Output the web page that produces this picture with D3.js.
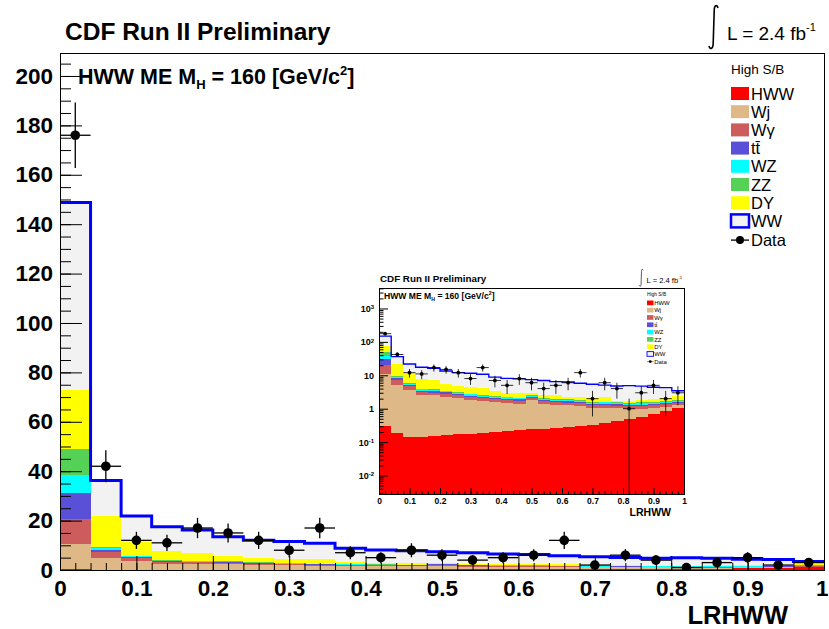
<!DOCTYPE html>
<html>
<head>
<meta charset="utf-8">
<script src="https://cdn.jsdelivr.net/npm/d3@7"></script>
<style>
  body { margin: 0; background: #fff; }
  svg { display: block; }
  text { font-family: "Liberation Sans", Arial, Helvetica, sans-serif; }
</style>
</head>
<body>
<svg id="chart" width="829" height="629"></svg>
<script>
// bins of LRHWW (width 0.04)
const binLow = [0, 0.04, 0.08, 0.12, 0.16, 0.2, 0.24, 0.28, 0.32, 0.36, 0.4, 0.44, 0.48,
                0.52, 0.56, 0.6, 0.64, 0.68, 0.72, 0.76, 0.8, 0.84, 0.88, 0.92, 0.96];
const binWidth = 0.04;

// expected events per bin, stacked bottom -> top
const hww    = [0.30, 0.19, 0.14, 0.14, 0.15, 0.16, 0.17, 0.18, 0.19, 0.20, 0.21, 0.23, 0.24,
                0.25, 0.27, 0.28, 0.30, 0.33, 0.37, 0.42, 0.48, 0.56, 0.69, 0.83, 1.05];
const wj     = [10.3, 4.8, 3.45, 2.45, 2.35, 2.15, 1.95, 1.7, 1.5, 1.4, 1.3, 1.2, 1.55,
                1.15, 1.05, 1.0, 0.9, 0.7, 0.7, 0.6, 0.5, 0.45, 0.38, 0.32, 0.25];
const wgamma = [10.2, 2.4, 1.1, 0.6, 0.55, 0.5, 0.45, 0.4, 0.38, 0.35, 0.33, 0.3, 0.3,
                0.28, 0.26, 0.25, 0.24, 0.22, 0.22, 0.2, 0.2, 0.2, 0.2, 0.2, 0.2];
const ttbar  = [10.2, 0.8, 0.45, 0.3, 0.28, 0.25, 0.22, 0.2, 0.2, 0.18, 0.17, 0.16, 0.15,
                0.15, 0.14, 0.14, 0.13, 0.13, 0.13, 0.12, 0.12, 0.12, 0.12, 0.12, 0.12];
const wz     = [7.6, 0.6, 0.35, 0.3, 0.28, 0.25, 0.22, 0.2, 0.2, 0.18, 0.17, 0.16, 0.16,
                0.15, 0.15, 0.14, 0.14, 0.13, 0.13, 0.12, 0.12, 0.12, 0.12, 0.12, 0.12];
const zz     = [10.4, 0.5, 0.3, 0.2, 0.18, 0.16, 0.15, 0.14, 0.13, 0.12, 0.12, 0.11, 0.11,
                0.1, 0.1, 0.1, 0.1, 0.09, 0.09, 0.09, 0.09, 0.09, 0.09, 0.09, 0.09];
const dy     = [24.0, 12.6, 5.7, 3.7, 3.2, 2.0, 1.65, 1.7, 1.7, 1.0, 0.6, 0.75, 0.5,
                0.5, 0.6, 0.4, 0.5, 0.5, 0.55, 0.15, 0.2, 0.3, 0.4, 0.4, 0.6];
const ww     = [75.8, 14.3, 10.4, 9.8, 9.2, 8.0, 7.2, 7.0, 6.5, 5.4, 5.2, 4.9, 4.4,
                4.4, 3.9, 4.0, 3.5, 3.3, 2.9, 3.1, 3.2, 2.9, 2.4, 2.2, 1.0];

// observed events
const dataCounts = [176, 42, 12, 11, 17, 15, 12, 8, 17, 7, 5, 8, 6,
                    4, 5, 6, 12, 2, 6, 4, 1, 3, 5, 2, 3];

// axis ticks
const yMajorTicks = [0, 20, 40, 60, 80, 100, 120, 140, 160, 180, 200];
const xMajorTicks = [0, 0.1, 0.2, 0.3, 0.4, 0.5, 0.6, 0.7, 0.8, 0.9, 1];
const xTickLabels = ["0", "0.1", "0.2", "0.3", "0.4", "0.5", "0.6", "0.7", "0.8", "0.9", "1"];
const logMajorTicks = [0.01, 0.1, 1, 10, 100, 1000];
const logTickLabels = [["10", "-2"], ["10", "-1"], ["1", ""], ["10", ""], ["10", "2"], ["10", "3"]];

const keys = ["hww", "wj", "wgamma", "ttbar", "wz", "zz", "dy", "ww"];
const legendLabels = ["HWW", "Wj", "W\u03b3", "t\u0074\u0304", "WZ", "ZZ", "DY", "WW"];
const colors = {
  hww: "#ff0000", wj: "#deb887", wgamma: "#cd5c5c", ttbar: "#5a50d8",
  wz: "#00ffff", zz: "#55d255", dy: "#ffff00", ww: "#f2f2f2"
};

const rows = binLow.map((lo, i) => ({
  lo, hww: hww[i], wj: wj[i], wgamma: wgamma[i], ttbar: ttbar[i],
  wz: wz[i], zz: zz[i], dy: dy[i], ww: ww[i], n: dataCounts[i]
}));
const series = d3.stack().keys(keys)(rows);
const totals = rows.map(r => d3.sum(keys, k => r[k]));

const svg = d3.select("#chart");
svg.append("rect").attr("width", 829).attr("height", 629).attr("fill", "#fff");

function drawHist(g, x, y, opt) {
  const floor = y.domain()[0];
  const [x0, x1] = x.range();
  const [yb, yt] = y.range();
  g.append("clipPath").attr("id", opt.id).append("rect")
    .attr("x", x0).attr("y", yt).attr("width", x1 - x0).attr("height", yb - yt);
  const plot = g.append("g").attr("clip-path", `url(#${opt.id})`);

  series.forEach(s => {
    plot.append("g").attr("fill", colors[s.key])
      .selectAll("rect").data(s).join("rect")
      .attr("shape-rendering", "crispEdges")
      .attr("x", d => x(d.data.lo))
      .attr("width", d => x(d.data.lo + binWidth) - x(d.data.lo) + 0.5)
      .attr("y", d => y(d[1]))
      .attr("height", d => Math.max(0, y(Math.max(d[0], floor)) - y(d[1])));
  });

  // WW outline = top of stack
  const pts = rows.map((r, i) => [r.lo, totals[i]]).concat([[1, totals[totals.length - 1]]]);
  plot.append("path")
    .attr("d", d3.line().x(d => x(d[0])).y(d => y(d[1])).curve(d3.curveStepAfter)(pts))
    .attr("fill", "none").attr("stroke", "#0000ff").attr("stroke-width", opt.lineW);

  // data points with sqrt(N) errors
  const pg = plot.append("g").attr("stroke", "#000").attr("stroke-width", opt.errW);
  pg.selectAll(".ev").data(rows).join("line").attr("class", "ev")
    .attr("x1", d => x(d.lo + binWidth / 2)).attr("x2", d => x(d.lo + binWidth / 2))
    .attr("y1", d => y(Math.max(d.n - Math.sqrt(d.n), floor)))
    .attr("y2", d => y(d.n + Math.sqrt(d.n)));
  pg.selectAll(".eh").data(rows).join("line").attr("class", "eh")
    .attr("x1", d => x(d.lo)).attr("x2", d => x(d.lo + binWidth))
    .attr("y1", d => y(d.n)).attr("y2", d => y(d.n));
  plot.append("g").selectAll("circle").data(rows).join("circle")
    .attr("cx", d => x(d.lo + binWidth / 2)).attr("cy", d => y(d.n))
    .attr("r", opt.markR).attr("fill", "#000");

  g.append("rect").attr("x", x0).attr("y", yt).attr("width", x1 - x0).attr("height", yb - yt)
    .attr("fill", "none").attr("stroke", "#000").attr("stroke-width", 1)
    .attr("shape-rendering", "crispEdges");
}

function styleAxis(a, size) {
  a.attr("font-family", "'Liberation Sans', Arial, sans-serif")
   .attr("font-size", size).attr("font-weight", "bold");
  a.select(".domain").remove();
}

// ---------------- main plot ----------------
const x = d3.scaleLinear().domain([0, 1]).range([60, 824]);
const y = d3.scaleLinear().domain([0, 209.3]).range([570, 53]);
const main = svg.append("g");
drawHist(main, x, y, { id: "clipMain", lineW: 3, errW: 1.3, markR: 4.8 });

main.append("g").attr("transform", `translate(60,0)`)
  .call(d3.axisLeft(y).tickValues(d3.range(0, 206, 5)).tickSize(-11).tickFormat(""))
  .call(a => styleAxis(a, 22));
main.append("g").attr("transform", `translate(60,0)`)
  .call(d3.axisLeft(y).tickValues(yMajorTicks).tickSize(-22).tickPadding(7))
  .call(a => styleAxis(a, 22.5));
main.append("g").attr("transform", `translate(0,570)`)
  .call(d3.axisBottom(x).tickValues(d3.range(0, 1.001, 0.02)).tickSize(-7).tickFormat(""))
  .call(a => styleAxis(a, 22));
main.append("g").attr("transform", `translate(0,570)`)
  .call(d3.axisBottom(x).tickValues(xMajorTicks).tickSize(-14).tickPadding(10)
    .tickFormat((d, i) => xTickLabels[i]))
  .call(a => styleAxis(a, 22.5))
  .call(a => a.selectAll(".tick:last-of-type text").attr("text-anchor", "end").attr("x", 4));

main.append("text").attr("x", 788).attr("y", 624).attr("text-anchor", "end")
  .attr("font-size", 25.5).attr("font-weight", "bold").text("LRHWW");

// titles
svg.append("text").attr("x", 65).attr("y", 40).attr("font-size", 24.5).attr("font-weight", "bold")
  .text("CDF Run II Preliminary");

function lumi(g, xs, ys, s) {
  g.append("path")
    .attr("d", `M${xs + 5 * s},${ys - 32 * s} C${xs + 4 * s},${ys - 36 * s} ${xs + 1.2 * s},${ys - 35 * s} ${xs + 1.2 * s},${ys - 29 * s}`
      + ` L${xs + 0.2 * s},${ys + 3 * s} C${xs + 0.2 * s},${ys + 9 * s} ${xs - 3 * s},${ys + 10 * s} ${xs - 4 * s},${ys + 6 * s}`)
    .attr("fill", "none").attr("stroke", "#000").attr("stroke-width", 1.6 * s);
  const t = g.append("text").attr("x", xs + 14 * s).attr("y", ys).attr("font-size", 19 * s);
  t.append("tspan").text("L = 2.4 fb");
  t.append("tspan").attr("dy", -9 * s).attr("font-size", 11 * s).text("-1");
}
lumi(svg, 713, 40, 1);

function channelLabel(g, xs, ys, s) {
  const t = g.append("text").attr("x", xs).attr("y", ys).attr("font-size", 21.5 * s)
    .attr("font-weight", "bold");
  t.append("tspan").text("HWW ME M");
  t.append("tspan").attr("dy", 5 * s).attr("font-size", 13 * s).text("H");
  t.append("tspan").attr("dy", -5 * s).text(" = 160 [GeV/c");
  t.append("tspan").attr("dy", -9 * s).attr("font-size", 13 * s).text("2");
  t.append("tspan").attr("dy", 9 * s).text("]");
}
channelLabel(svg, 78, 84, 1);

function legend(g, lx, ly, step, s) {
  g.append("text").attr("x", lx).attr("y", ly - 6 * s).attr("font-size", 13.5 * s).text("High S/B");
  keys.forEach((k, i) => {
    const cy = ly + 13.5 * s + i * step;
    g.append("rect").attr("x", lx).attr("y", cy - 6.5 * s).attr("width", 18 * s).attr("height", 13 * s)
      .attr("fill", colors[k])
      .attr("stroke", k === "ww" ? "#0000ff" : "none").attr("stroke-width", 2.5 * s);
    g.append("text").attr("x", lx + 20 * s).attr("y", cy + 6 * s).attr("font-size", 16.5 * s)
      .text(legendLabels[i]);
  });
  const cy = ly + 13.5 * s + keys.length * step + 1 * s;
  g.append("line").attr("x1", lx).attr("x2", lx + 18 * s).attr("y1", cy).attr("y2", cy)
    .attr("stroke", "#000").attr("stroke-width", 1.3 * s);
  g.append("circle").attr("cx", lx + 9 * s).attr("cy", cy).attr("r", 4 * s).attr("fill", "#000");
  g.append("text").attr("x", lx + 20 * s).attr("y", cy + 6 * s).attr("font-size", 16.5 * s).text("Data");
}
legend(svg, 731, 80, 18.2, 1);

// ---------------- inset (log scale) ----------------
const xi = d3.scaleLinear().domain([0, 1]).range([379, 684]);
const yi = d3.scaleLog().domain([0.0028, 4100]).range([494, 288]);
const inset = svg.append("g");
inset.append("rect").attr("x", 345).attr("y", 264).attr("width", 356).attr("height", 256).attr("fill", "#fff");
drawHist(inset, xi, yi, { id: "clipInset", lineW: 1.4, errW: 0.8, markR: 1.9 });

const logMinor = [];
[0.001, 0.01, 0.1, 1, 10, 100, 1000].forEach(dec => {
  for (let m = 2; m <= 9; m++) {
    const v = dec * m;
    if (v > 0.0028 && v < 4100) logMinor.push(v);
  }
});
inset.append("g").attr("transform", `translate(379,0)`)
  .call(d3.axisLeft(yi).tickValues(logMinor).tickSize(-4.5).tickFormat(""))
  .call(a => styleAxis(a, 9));
inset.append("g").attr("transform", `translate(379,0)`)
  .call(d3.axisLeft(yi).tickValues(logMajorTicks).tickSize(-9).tickPadding(4).tickFormat(""))
  .call(a => styleAxis(a, 9))
  .call(a => a.selectAll(".tick").each(function (d, i) {
    const t = d3.select(this).append("text").attr("x", -5).attr("dy", "0.32em")
      .attr("fill", "#000").attr("text-anchor", "end");
    t.append("tspan").text(logTickLabels[i][0]);
    if (logTickLabels[i][1]) {
      t.append("tspan").attr("dy", "-0.45em").attr("font-size", 6).text(logTickLabels[i][1]);
    }
  }));
inset.append("g").attr("transform", `translate(0,494)`)
  .call(d3.axisBottom(xi).tickValues(d3.range(0, 1.001, 0.02)).tickSize(-3).tickFormat(""))
  .call(a => styleAxis(a, 8.5));
inset.append("g").attr("transform", `translate(0,494)`)
  .call(d3.axisBottom(xi).tickValues(xMajorTicks).tickSize(-6).tickPadding(4)
    .tickFormat((d, i) => xTickLabels[i]))
  .call(a => styleAxis(a, 8.5));
inset.append("text").attr("x", 671).attr("y", 516).attr("text-anchor", "end")
  .attr("font-size", 10.5).attr("font-weight", "bold").text("LRHWW");
inset.append("text").attr("x", 380).attr("y", 282).attr("font-size", 9.8).attr("font-weight", "bold")
  .text("CDF Run II Preliminary");
lumi(inset, 641, 283, 0.4);
channelLabel(inset, 384, 298.5, 0.4);
legend(inset, 647, 298, 7.3, 0.36);
</script>
</body>
</html>
